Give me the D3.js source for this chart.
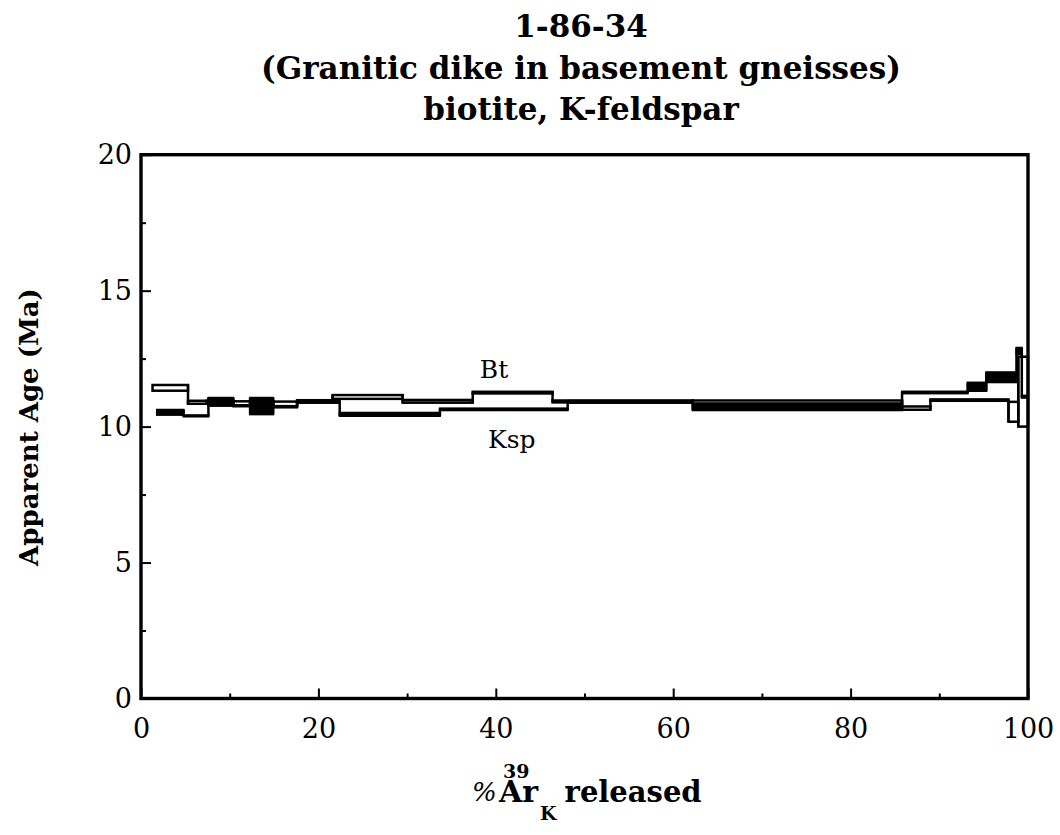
<!DOCTYPE html>
<html>
<head>
<meta charset="utf-8">
<script src="https://cdnjs.cloudflare.com/ajax/libs/d3/7.8.5/d3.min.js"></script>
<style>
  body { margin: 0; background: #fff; }
  text { font-family: "DejaVu Serif", serif; fill: #000; }
</style>
</head>
<body>
<div id="chart"></div>
<script>
var svgWidth = 1060;
var svgHeight = 835;

var margin = {
  top: 154.7,
  right: 32,
  bottom: 136.5,
  left: 141
};

var width = svgWidth - margin.left - margin.right;
var height = svgHeight - margin.top - margin.bottom;

// titles
var titleLines = ["1-86-34", "(Granitic dike in basement gneisses)", "biotite, K-feldspar"];
var yTitle = "Apparent Age (Ma)";

// ticks
var xTicks = [0, 20, 40, 60, 80, 100];
var xMinorTicks = [10, 30, 50, 70, 90];
var yTicks = [0, 5, 10, 15, 20];
var yMinorTicks = [2.5, 7.5, 12.5, 17.5];

// biotite spectrum: step edges (cumulative % 39ArK released), box low / high age (Ma)
var btSteps = [1.3, 5.3, 7.4, 10.4, 12.3, 14.9, 17.6, 21.6, 29.5, 37.4, 46.4, 62.2, 85.8, 89.0, 97.8, 98.9, 100];
var btLow  = [11.32, 10.84, 10.87, 10.78, 10.87, 10.75, 10.89, 11.02, 10.88, 11.22, 10.89, 10.85, 10.62, 10.95, 10.18, 10.00];
var btHigh = [11.53, 10.95, 10.95, 10.93, 10.95, 10.92, 10.97, 11.16, 10.98, 11.28, 10.96, 10.96, 10.74, 11.00, 10.91, 12.57];

// K-feldspar spectrum
var kspSteps = [1.8, 4.8, 7.6, 10.4, 12.3, 14.9, 17.6, 22.4, 33.7, 48.1, 62.2, 85.8, 93.2, 95.3, 98.7, 99.3, 100];
var kspLow  = [10.43, 10.37, 10.76, 10.74, 10.45, 10.70, 10.87, 10.39, 10.60, 10.87, 10.60, 11.22, 11.31, 11.63, 12.66, 11.06];
var kspHigh = [10.62, 10.42, 11.06, 10.79, 11.06, 10.76, 10.96, 10.51, 10.67, 10.95, 10.84, 11.29, 11.62, 12.00, 12.90, 11.14];

// spectrum labels
var labelNames = ["Bt", "Ksp"];
var labelPct = [39.8, 41.8];
var labelAge = [11.79, 9.21];

var svg = d3
  .select("#chart")
  .append("svg")
  .attr("width", svgWidth)
  .attr("height", svgHeight);

var chartGroup = svg.append("g")
  .attr("transform", `translate(${margin.left}, ${margin.top})`);

var x = d3.scaleLinear().domain([0, 100]).range([0, width]);
var y = d3.scaleLinear().domain([0, 20]).range([height, 0]);

// minor ticks first, no labels
chartGroup.append("g")
  .attr("transform", `translate(0, ${height})`)
  .call(d3.axisBottom(x).tickValues(xMinorTicks).tickSizeInner(-5).tickSizeOuter(0).tickFormat(""));
chartGroup.append("g")
  .call(d3.axisLeft(y).tickValues(yMinorTicks).tickSizeInner(-5).tickSizeOuter(0).tickFormat(""));

// major ticks with labels
var xAxis = chartGroup.append("g")
  .attr("transform", `translate(0, ${height})`)
  .call(d3.axisBottom(x).tickValues(xTicks).tickSizeInner(-10).tickSizeOuter(0).tickPadding(20));
var yAxis = chartGroup.append("g")
  .call(d3.axisLeft(y).tickValues(yTicks).tickSizeInner(-10).tickSizeOuter(0).tickPadding(9));

chartGroup.selectAll(".domain").remove();
chartGroup.selectAll(".tick line").attr("stroke", "#000").attr("stroke-width", 2);
chartGroup.selectAll(".tick text")
  .attr("font-family", "DejaVu Serif")
  .attr("font-size", 27)
  .attr("fill", "#000");

// frame
chartGroup.append("rect")
  .attr("width", width)
  .attr("height", height)
  .attr("fill", "none")
  .attr("stroke", "#000")
  .attr("stroke-width", 3.4);

// one age spectrum: a box per step, plus vertical risers between steps
function drawSpectrum(steps, low, high, filled) {
  var boxes = low.map((lo, i) => ({ x0: steps[i], x1: steps[i + 1], lo: lo, hi: high[i] }));
  var g = chartGroup.append("g");

  g.selectAll("line")
    .data(boxes.slice(1))
    .enter()
    .append("line")
    .attr("x1", d => x(d.x0))
    .attr("x2", d => x(d.x0))
    .attr("y1", (d, i) => y(Math.min(d.lo, boxes[i].lo)))
    .attr("y2", (d, i) => y(Math.max(d.hi, boxes[i].hi)))
    .attr("stroke", "#000")
    .attr("stroke-width", 2.5);

  g.selectAll("rect")
    .data(boxes)
    .enter()
    .append("rect")
    .attr("x", d => x(d.x0))
    .attr("width", d => x(d.x1) - x(d.x0))
    .attr("y", d => y(d.hi))
    .attr("height", d => y(d.lo) - y(d.hi))
    .attr("fill", filled ? "#000" : "none")
    .attr("stroke", "#000")
    .attr("stroke-width", filled ? 2 : 2.5);
}

drawSpectrum(btSteps, btLow, btHigh, false);
drawSpectrum(kspSteps, kspLow, kspHigh, true);

// Bt / Ksp labels
chartGroup.selectAll(".spec-label")
  .data(labelNames)
  .enter()
  .append("text")
  .attr("class", "spec-label")
  .attr("x", (d, i) => x(labelPct[i]))
  .attr("y", (d, i) => y(labelAge[i]))
  .attr("text-anchor", "middle")
  .attr("font-size", 25)
  .text(d => d);

// title
svg.selectAll(".title")
  .data(titleLines)
  .enter()
  .append("text")
  .attr("class", "title")
  .attr("x", 581)
  .attr("y", (d, i) => 37 + i * 41.5)
  .attr("text-anchor", "middle")
  .attr("font-weight", "bold")
  .attr("font-size", 31)
  .text(d => d);

// y axis title
svg.append("text")
  .attr("transform", "translate(38, 427) rotate(-90)")
  .attr("text-anchor", "middle")
  .attr("font-weight", "bold")
  .attr("font-size", 26)
  .text(yTitle);

// x axis title: % 39ArK released, 39 sits over the A, K hangs below
var xTitle = svg.append("text")
  .attr("x", 472)
  .attr("y", 801);
xTitle.append("tspan")
  .attr("font-size", 26)
  .attr("font-style", "italic")
  .text("%");
xTitle.append("tspan")
  .attr("x", 503)
  .attr("y", 778)
  .attr("font-size", 19)
  .attr("font-weight", "bold")
  .text("39");
xTitle.append("tspan")
  .attr("x", 499)
  .attr("y", 802)
  .attr("font-size", 30)
  .attr("font-weight", "bold")
  .text("Ar");
xTitle.append("tspan")
  .attr("dx", 2)
  .attr("y", 820)
  .attr("font-size", 19)
  .attr("font-weight", "bold")
  .text("K");
xTitle.append("tspan")
  .attr("dx", 8)
  .attr("y", 802)
  .attr("font-size", 29)
  .attr("font-weight", "bold")
  .text("released");
</script>
</body>
</html>
